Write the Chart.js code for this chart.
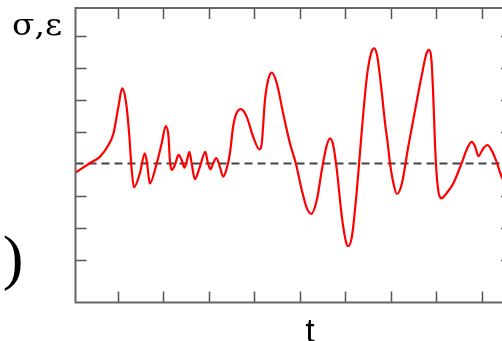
<!DOCTYPE html>
<html>
<head>
<meta charset="utf-8">
<script src="https://cdn.jsdelivr.net/npm/chart.js@4.4.1/dist/chart.umd.min.js"></script>
<style>
  html, body { margin: 0; padding: 0; background: #fff; overflow: hidden; }
  #wrap { position: relative; width: 516px; height: 341px; }
</style>
</head>
<body>
<div id="wrap"><canvas id="chart"></canvas></div>
<script>
  // signal (t in tick units, value in tick units)
  const tValues = [0.07, 0.38, 0.60, 0.79, 0.90, 1.01, 1.09, 1.18, 1.25, 1.29, 1.35, 1.48, 1.59, 1.64, 1.70,
    1.85, 1.96, 2.05, 2.11, 2.14, 2.18, 2.25, 2.33, 2.40, 2.46, 2.51, 2.57, 2.62, 2.69, 2.80, 2.92, 2.97,
    3.03, 3.09, 3.16, 3.24, 3.31, 3.39, 3.46, 3.53, 3.59, 3.70, 3.83, 3.97, 4.11, 4.16, 4.23, 4.30, 4.38,
    4.49, 4.63, 4.78, 4.91, 5.04, 5.15, 5.25, 5.37, 5.48, 5.59, 5.66, 5.73, 5.81, 5.92, 6.01, 6.06, 6.14,
    6.25, 6.36, 6.47, 6.56, 6.63, 6.70, 6.80, 6.87, 6.92, 6.98, 7.05, 7.13, 7.24, 7.38, 7.53, 7.67, 7.78,
    7.84, 7.89, 7.93, 7.97, 8.02, 8.11, 8.22, 8.37, 8.55, 8.66, 8.77, 8.85, 8.92, 9.03, 9.12, 9.21, 9.32,
    9.43, 9.53];
  const sigmaValues = [-0.28, 0.01, 0.21, 0.58, 0.94, 1.78, 2.35, 1.88, 0.84, 0.0, -0.74, -0.31, 0.32, 0.0, -0.62,
    0.0, 0.63, 1.17, 0.84, 0.11, -0.20, -0.05, 0.27, 0.11, -0.13, 0.06, 0.37, 0.0, -0.49, -0.10, 0.37, 0.06,
    -0.18, 0.0, 0.17, -0.10, -0.41, -0.15, 0.32, 1.15, 1.52, 1.70, 1.46, 0.84, 0.44, 0.63, 1.98, 2.61, 2.84,
    2.51, 1.57, 0.63, 0.0, -0.83, -1.39, -1.57, -1.14, -0.20, 0.58, 0.79, 0.58, -0.20, -1.66, -2.44, -2.58, -2.29,
    -0.83, 1.05, 2.71, 3.44, 3.60, 3.34, 2.19, 1.26, 0.73, 0.0, -0.59, -0.95, -0.62, 0.53, 1.67, 2.71, 3.44,
    3.55, 3.23, 2.09, 0.53, -0.62, -1.09, -0.93, -0.62, 0.0, 0.42, 0.68, 0.53, 0.23, 0.48, 0.58, 0.42, 0.06,
    -0.41, -0.70];
  const xTicks = [1, 2, 3, 4, 5, 6, 7, 8, 9];
  const yTicks = [-3, -2, -1, 1, 2, 3, 4];
  const xMin = 0.066, xMax = 9.66;
  const yMin = -4.34, yMax = 4.86;

  const points = tValues.map((t, i) => ({ x: t, y: sigmaValues[i] }));

  const frame = {
    id: 'frame',
    afterDatasetsDraw(chart) {
      const c = chart.ctx;
      const a = chart.chartArea;
      const xs = chart.scales.x, ys = chart.scales.y;
      const tl = 11;
      c.save();
      // inward ticks on all four sides
      c.strokeStyle = '#555';
      c.lineWidth = 1.5;
      c.beginPath();
      xTicks.forEach(v => {
        const px = Math.round(xs.getPixelForValue(v)) + 0.5;
        c.moveTo(px, a.bottom); c.lineTo(px, a.bottom - tl);
        c.moveTo(px, a.top); c.lineTo(px, a.top + tl);
      });
      yTicks.forEach(v => {
        const py = Math.round(ys.getPixelForValue(v)) + 0.5;
        c.moveTo(a.left, py); c.lineTo(a.left + tl, py);
        c.moveTo(a.right, py); c.lineTo(a.right - tl, py);
      });
      c.stroke();
      // box
      c.strokeStyle = '#666';
      c.lineWidth = 2;
      c.strokeRect(a.left, a.top, a.right - a.left, a.bottom - a.top);
      // labels
      c.fillStyle = '#000';
      c.textBaseline = 'alphabetic';
      c.textAlign = 'left';
      c.font = '30px "DejaVu Serif", serif';
      const w = c.measureText('σ,ε').width;
      c.save();
      c.translate(12, 35);
      c.scale(50 / w, 1);
      c.fillText('σ,ε', 0, 0);
      c.restore();
      c.textAlign = 'center';
      c.font = '33px "Liberation Sans", Arial, sans-serif';
      c.fillText('t', 310, 342);
      c.font = '62px "Liberation Serif", serif';
      c.fillText(')', 13, 278);
      c.restore();
    }
  };

  new Chart(document.getElementById('chart'), {
    type: 'line',
    data: {
      datasets: [
        {
          data: points,
          borderColor: '#ff0000',
          borderWidth: 2.2,
          pointRadius: 0,
          cubicInterpolationMode: 'monotone',
          fill: false
        },
        {
          data: [{ x: xMin, y: 0 }, { x: xMax, y: 0 }],
          borderColor: '#444',
          borderWidth: 2,
          borderDash: [8, 5],
          pointRadius: 0,
          fill: false
        }
      ]
    },
    options: {
      responsive: true,
      maintainAspectRatio: false,
      animation: false,
      layout: { padding: { left: 75.5, top: 8, right: 4, bottom: 38.5 } },
      plugins: { legend: { display: false }, tooltip: { enabled: false } },
      scales: {
        x: { type: 'linear', min: xMin, max: xMax, display: false },
        y: { type: 'linear', min: yMin, max: yMax, display: false }
      }
    },
    plugins: [frame]
  });
</script>
</body>
</html>
